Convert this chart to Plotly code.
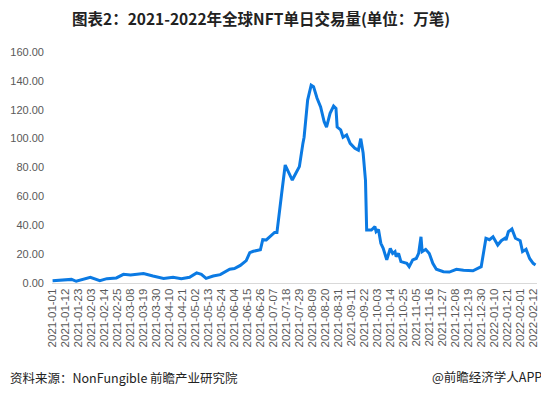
import plotly.graph_objects as go
import pandas as pd

dates = [
    "2021-01-01", "2021-01-17", "2021-01-21", "2021-02-02", "2021-02-10", "2021-02-16",
    "2021-02-24", "2021-03-02", "2021-03-08", "2021-03-19", "2021-03-27", "2021-04-05",
    "2021-04-13", "2021-04-20", "2021-04-27", "2021-05-03", "2021-05-07", "2021-05-11",
    "2021-05-17", "2021-05-23", "2021-05-31", "2021-06-04", "2021-06-09", "2021-06-14",
    "2021-06-17", "2021-06-20", "2021-06-26", "2021-06-28", "2021-07-01", "2021-07-04",
    "2021-07-08", "2021-07-10", "2021-07-12", "2021-07-14", "2021-07-17", "2021-07-20",
    "2021-07-23", "2021-07-26", "2021-07-29", "2021-08-01", "2021-08-02", "2021-08-05",
    "2021-08-08", "2021-08-10", "2021-08-13", "2021-08-16", "2021-08-19", "2021-08-21",
    "2021-08-24", "2021-08-27", "2021-08-29", "2021-08-30", "2021-09-02", "2021-09-04",
    "2021-09-07", "2021-09-10", "2021-09-14", "2021-09-17", "2021-09-19", "2021-09-21",
    "2021-09-23", "2021-09-24", "2021-09-28", "2021-10-01", "2021-10-02", "2021-10-04",
    "2021-10-06", "2021-10-08", "2021-10-11", "2021-10-14", "2021-10-16", "2021-10-18",
    "2021-10-19", "2021-10-21", "2021-10-23", "2021-10-28", "2021-10-30", "2021-11-02",
    "2021-11-05", "2021-11-07", "2021-11-09", "2021-11-10", "2021-11-13", "2021-11-16",
    "2021-11-19", "2021-11-22", "2021-11-28", "2021-12-03", "2021-12-09", "2021-12-15",
    "2021-12-23", "2021-12-30", "2022-01-01", "2022-01-03", "2022-01-06", "2022-01-09",
    "2022-01-13", "2022-01-16", "2022-01-19", "2022-01-20", "2022-01-22", "2022-01-25",
    "2022-01-28", "2022-02-01", "2022-02-03", "2022-02-06", "2022-02-09", "2022-02-12",
    "2022-02-14",
]
volume = [
    1.6, 2.5, 1.2, 4.0, 1.6, 3.0,
    3.5, 6.0, 5.5, 6.5, 4.8, 3.2,
    4.0, 3.0, 4.0, 7.0, 6.0, 3.2,
    4.8, 5.8, 9.5, 10.0, 12.2, 15.5,
    21.0, 22.0, 23.0, 30.0, 29.8, 32.0,
    35.0, 35.0, 50.0, 62.0, 81.7, 76.0,
    71.3, 76.0, 80.6, 96.7, 101.0, 126.7,
    137.0, 136.0, 128.0, 122.0, 111.7, 108.0,
    117.5, 122.6, 121.0, 108.0, 106.0, 101.0,
    102.5, 96.7, 93.3, 92.0, 100.0, 90.0,
    71.0, 36.7, 36.7, 39.0, 35.5, 37.0,
    27.5, 24.0, 16.0, 24.0, 20.5, 21.7,
    18.2, 20.5, 14.8, 13.6, 11.3, 16.0,
    17.0, 20.5, 32.0, 21.7, 23.3, 20.5,
    13.6, 9.5, 7.8, 7.6, 9.5, 8.8,
    8.5, 11.3, 23.0, 31.0, 30.0, 32.0,
    26.3, 29.3, 31.0, 29.8, 35.5, 37.4,
    31.0, 29.3, 21.7, 23.3, 17.0, 13.6,
    12.5,
]

tick_dates = [d.strftime("%Y-%m-%d") for d in pd.date_range("2021-01-01", "2022-02-12", freq="11D")]
y_ticks = [0, 20, 40, 60, 80, 100, 120, 140, 160]

title_text = "图表2：2021-2022年全球NFT单日交易量(单位：万笔)"
source_text = "资料来源：NonFungible 前瞻产业研究院"
brand_text = "@前瞻经济学人APP"

# page body has an 8px margin, so the figure is drawn 8px in from the window corner
OFF = 8
W, H = 549 - OFF, 397 - OFF
L, R, T, B = 52 - OFF, 12, 52 - OFF, 114

fig = go.Figure()
fig.add_trace(go.Scatter(
    x=dates, y=volume, mode="lines",
    line=dict(color="#0b7ae3", width=3),
    hoverinfo="skip",
))

fig.update_layout(
    width=W, height=H,
    margin=dict(l=L, r=R, t=T, b=B, pad=0, autoexpand=False),
    paper_bgcolor="white", plot_bgcolor="white",
    showlegend=False,
    font=dict(family="Liberation Sans, Arial, sans-serif", color="#595959"),
)

fig.update_xaxes(
    type="date", automargin=False,
    range=["2020-12-31 12:00", "2022-02-15 06:00"],
    tickmode="array", tickvals=tick_dates, ticktext=tick_dates,
    tickangle=-90,
    tickfont=dict(size=11.5, color="#595959", family="Liberation Sans, Arial, sans-serif"),
    showline=True, linecolor="#d9d9d9", linewidth=1,
    showgrid=False, zeroline=False, ticks="",
)
fig.update_yaxes(
    range=[0, 160], automargin=False,
    tickmode="array", tickvals=y_ticks,
    ticktext=[f"{v:.2f}" for v in y_ticks],
    tickfont=dict(size=11, color="#595959", family="Liberation Sans, Arial, sans-serif"),
    showgrid=False, zeroline=False, showline=False,
    ticks="", ticklabelstandoff=7,
)

# texts placed at window pixel positions via paper fractions
def px(xpix):
    return (xpix - OFF - L) / (W - L - R)

def py(ypix):
    return (H - B - (ypix - OFF)) / (H - T - B)

fig.add_annotation(
    text="<b>" + title_text + "</b>", xref="paper", yref="paper",
    x=px(261), y=py(18), xanchor="center", yanchor="middle", showarrow=False,
    font=dict(family="Noto Sans CJK SC, sans-serif", size=15.5, color="#222222"),
)
fig.add_annotation(
    text=source_text, xref="paper", yref="paper",
    x=px(8), y=py(377), xanchor="left", yanchor="middle", showarrow=False,
    font=dict(family="Noto Sans CJK SC, sans-serif", size=12.5, color="#222222"),
)
fig.add_annotation(
    text=brand_text, xref="paper", yref="paper",
    x=px(544), y=py(376), xanchor="right", yanchor="middle", showarrow=False,
    font=dict(family="Noto Sans CJK SC, sans-serif", size=12.5, color="#222222"),
)

fig.write_html("out.html")
